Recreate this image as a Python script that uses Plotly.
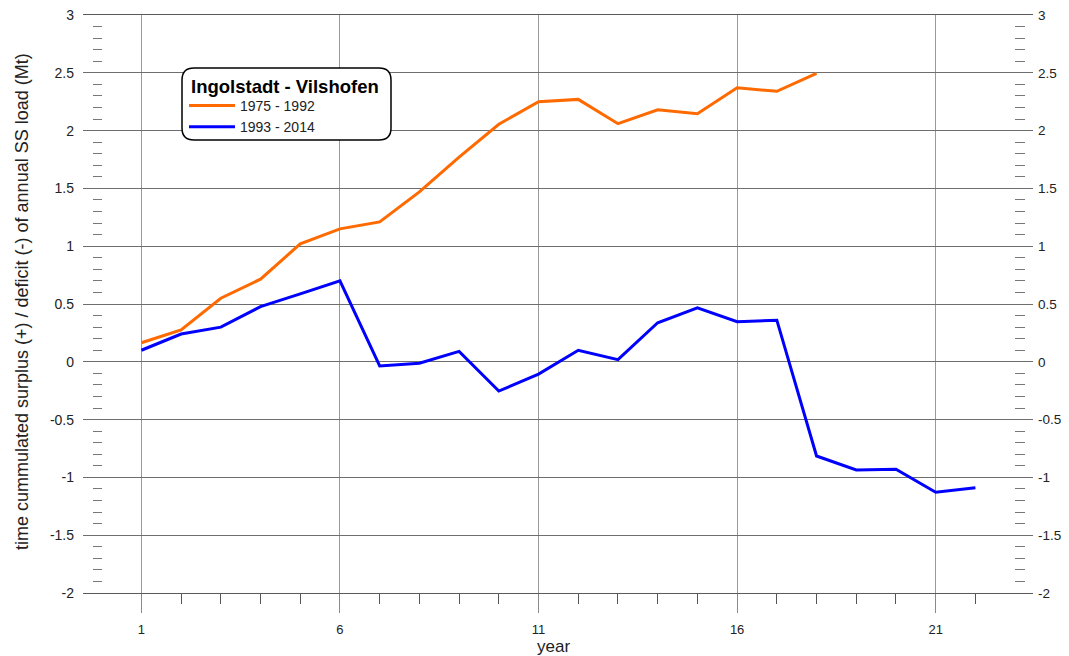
import plotly.graph_objects as go

# Data
years_a = list(range(1, 19))
load_a = [0.165, 0.275, 0.55, 0.715, 1.02, 1.15, 1.21, 1.47, 1.77, 2.055,
          2.25, 2.27, 2.06, 2.18, 2.146, 2.37, 2.34, 2.495]
years_b = list(range(1, 23))
load_b = [0.10, 0.24, 0.30, 0.477, 0.587, 0.70, -0.036, -0.012, 0.09, -0.253,
          -0.106, 0.10, 0.018, 0.338, 0.466, 0.347, 0.36, -0.815, -0.936, -0.93,
          -1.129, -1.089]

x_major = [1, 6, 11, 16, 21]
x_minor = list(range(1, 23))
y_major = [-2, -1.5, -1, -0.5, 0, 0.5, 1, 1.5, 2, 2.5, 3]
y_labels = ["-2", "-1.5", "-1", "-0.5", "0", "0.5", "1", "1.5", "2", "2.5", "3"]
y_minor = [round(-2 + 0.1 * i, 1) for i in range(51) if i % 5]

FONT = "Liberation Sans, Arial, sans-serif"

fig = go.Figure()

fig.add_trace(go.Scatter(x=years_a, y=load_a, mode="lines", name="1975 - 1992",
                         line=dict(color="#ff6a00", width=3)))
fig.add_trace(go.Scatter(x=years_b, y=load_b, mode="lines", name="1993 - 2014",
                         line=dict(color="#0000ff", width=3)))

# invisible helpers so the extra y axes get drawn
for ax in ["y2", "y3", "y4"]:
    fig.add_trace(go.Scatter(x=years_b, y=load_b, yaxis=ax, mode="lines",
                             line=dict(width=0), opacity=0, showlegend=False,
                             hoverinfo="skip"))

# page body has an 8px margin, so the figure is drawn 8px smaller / shifted
OFF = 8
W, H = 1069 - OFF, 656 - OFF
L, R, T, B = 83, 1033, 15, 593   # plot box in page pixels
def px(x):
    return (x - L) / (R - L)
def py(y):
    return (B - y) / (B - T)

# rounded legend frame
x0, x1, y0, y1, r = 182, 391, 68, 140, 12
path = (f"M {px(x0 + r)},{py(y0)} L {px(x1 - r)},{py(y0)} "
        f"Q {px(x1)},{py(y0)} {px(x1)},{py(y0 + r)} "
        f"L {px(x1)},{py(y1 - r)} Q {px(x1)},{py(y1)} {px(x1 - r)},{py(y1)} "
        f"L {px(x0 + r)},{py(y1)} Q {px(x0)},{py(y1)} {px(x0)},{py(y1 - r)} "
        f"L {px(x0)},{py(y0 + r)} Q {px(x0)},{py(y0)} {px(x0 + r)},{py(y0)} Z")
fig.add_shape(type="path", path=path, xref="paper", yref="paper",
              line=dict(color="black", width=1.5), fillcolor="white", layer="above")

fig.add_annotation(text="<b>Ingolstadt - Vilshofen</b>", xref="paper", yref="paper",
                   x=px(189), y=py(86), xanchor="left", yanchor="middle",
                   showarrow=False, font=dict(size=18.5, color="black"))
fig.add_annotation(text="year", xref="paper", yref="paper", x=px(553), y=py(646),
                   xanchor="center", yanchor="middle", showarrow=False,
                   font=dict(size=17, color="#222222"))
fig.add_annotation(text="time cummulated surplus (+) / deficit (-) of annual SS load (Mt)",
                   xref="paper", yref="paper", x=px(22), y=py(302), textangle=-90,
                   xanchor="center", yanchor="middle", showarrow=False,
                   font=dict(size=18, color="#222222"))

yrange = [-2, 3]
fig.update_layout(
    width=W, height=H,
    margin=dict(l=L - OFF, r=W - (R - OFF), t=T - OFF, b=H - (B - OFF), autoexpand=False),
    plot_bgcolor="white", paper_bgcolor="white",
    font=dict(family=FONT, size=14, color="#222222"),
    showlegend=True,
    legend=dict(
        x=px(184), y=py(90), xanchor="left", yanchor="top",
        bgcolor="rgba(0,0,0,0)", borderwidth=0,
        font=dict(size=14, color="#222222"),
        itemwidth=46, tracegroupgap=0,
    ),
    xaxis=dict(
        range=[-0.47, 23.45], automargin=False,
        tickmode="array", tickvals=x_major, ticktext=[str(v) for v in x_major],
        ticks="outside", ticklen=19, tickcolor="#8a8a8a", tickwidth=1,
        showgrid=True, gridcolor="#9a9a9a", gridwidth=1,
        showline=True, mirror=True, linecolor="#5a5a5a", linewidth=1,
        zeroline=False, ticklabelstandoff=5,
        minor=dict(tickmode="array", tickvals=x_minor, ticks="outside",
                   ticklen=10, tickcolor="#555555", showgrid=False),
        tickfont=dict(size=13),
    ),
    yaxis=dict(
        range=yrange, automargin=False, tickmode="array", tickvals=y_major, ticktext=y_labels,
        ticks="", showgrid=True, gridcolor="#6e6e6e", gridwidth=1,
        zeroline=False, showline=False, ticklabelstandoff=8,
        ticklabeloverflow="allow",
    ),
    yaxis2=dict(
        range=yrange, automargin=False, overlaying="y", side="right", anchor="x",
        tickmode="array", tickvals=y_major, ticktext=y_labels,
        ticks="", showgrid=False, zeroline=False, showline=False,
        ticklabelstandoff=4, ticklabeloverflow="allow", tickfont=dict(size=13.5),
    ),
    yaxis3=dict(
        range=yrange, automargin=False, overlaying="y", anchor="free",
        position=px(92), side="left",
        tickmode="array", tickvals=y_major, showticklabels=False, ticks="",
        showgrid=False, zeroline=False, showline=False,
        minor=dict(tickmode="array", tickvals=y_minor, ticks="inside",
                   ticklen=9, tickcolor="#777777", showgrid=False),
    ),
    yaxis4=dict(
        range=yrange, automargin=False, overlaying="y", anchor="free",
        position=px(1025), side="right",
        tickmode="array", tickvals=y_major, showticklabels=False, ticks="",
        showgrid=False, zeroline=False, showline=False,
        minor=dict(tickmode="array", tickvals=y_minor, ticks="inside",
                   ticklen=10, tickcolor="#777777", showgrid=False),
    ),
)

fig.write_html("out.html")
